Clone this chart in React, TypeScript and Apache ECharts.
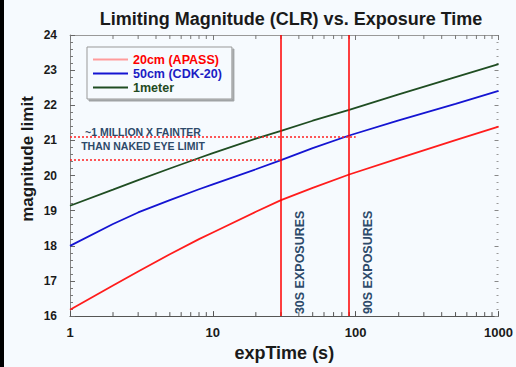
import { useEffect, useRef } from 'react';
import * as echarts from 'echarts';

const expTimes = [1, 2, 3, 5, 8, 10, 20, 30, 50, 90, 200, 500, 1000];
const mag20cm = [16.18, 16.87, 17.27, 17.76, 18.19, 18.38, 18.97, 19.3, 19.65, 20.03, 20.49, 21.01, 21.39];
const mag50cm = [18.0, 18.62, 18.95, 19.3, 19.61, 19.75, 20.18, 20.44, 20.78, 21.14, 21.57, 22.04, 22.41];
const mag1m = [19.14, 19.6, 19.87, 20.2, 20.5, 20.64, 21.05, 21.27, 21.56, 21.87, 22.31, 22.8, 23.17];
const seriesNames = ['20cm (APASS)', '50cm (CDK-20)', '1meter'];
const lineColors = ['#ff1c1c', '#1414d2', '#1f4d22'];
const legendIconColors = ['#ff9c9c', '#1414d2', '#1f4d22'];
const legendTextColors = ['#ff0000', '#1c1cc4', '#1f4a22'];
const exposureMarks = [30, 90];
const exposureLabels = ['30S EXPOSURES', '90S EXPOSURES'];
const faintLevels = [21.11, 20.44];
const faintEnds = [100, 30];
const minorXTicks = [2, 3, 4, 5, 6, 7, 8, 9, 20, 30, 40, 50, 60, 70, 80, 90, 200, 300, 400, 500, 600, 700, 800, 900];
const yMin = 16;
const yMax = 24;
const xMin = 1;
const xMax = 1000;

const FONT = '"Liberation Sans", Arial, Helvetica, sans-serif';
const BG = '#f6fafe';
const NOTE = '#2e4a6a';

export default function App() {
  const ref = useRef<HTMLDivElement>(null);
  useEffect(() => {
    document.body.style.margin = '0';
    if (!ref.current) return;
    const chart = echarts.init(ref.current, null, { renderer: 'svg' });
    const pairs = (ys: number[]) => expTimes.map((t, i) => [t, ys[i]]);
    const series: any[] = [mag20cm, mag50cm, mag1m].map((ys, i) => ({
      name: seriesNames[i],
      type: 'line',
      data: pairs(ys),
      symbol: 'none',
      lineStyle: { color: lineColors[i], width: 1.8 },
      itemStyle: { color: lineColors[i] },
      z: 3,
    }));
    series[0].markLine = {
      silent: true,
      symbol: 'none',
      animation: false,
      label: { show: false },
      data: [
        ...exposureMarks.map((x, i) => ({
          xAxis: x,
          lineStyle: { color: '#ff0000', width: 1.5, type: 'solid' },
          label: {
            show: true,
            formatter: exposureLabels[i],
            position: 'insideStartBottom',
            distance: [2, 12],
            color: NOTE,
            fontFamily: FONT,
            fontSize: 12.5,
            fontWeight: 'bold',
          },
        })),
        ...faintLevels.map((y, i) => [
          { coord: [xMin, y], lineStyle: { color: '#ff2020', width: 1.5, type: [2, 2] }, label: { show: false } },
          { coord: [faintEnds[i], y] },
        ]),
      ],
    };
    series.push({
      type: 'custom',
      silent: true,
      data: minorXTicks.map((v) => [v, yMin]),
      encode: { x: 0, y: 1 },
      z: 2,
      renderItem: (_p: any, api: any) => {
        const v = api.value(0);
        const b = api.coord([v, yMin]);
        const t = api.coord([v, yMax]);
        return {
          type: 'group',
          children: [
            { type: 'line', shape: { x1: b[0], y1: b[1], x2: b[0], y2: b[1] - 4 }, style: { stroke: '#555', lineWidth: 1 } },
            { type: 'line', shape: { x1: t[0], y1: t[1], x2: t[0], y2: t[1] + 4 }, style: { stroke: '#777', lineWidth: 1 } },
          ],
        };
      },
    });

    chart.setOption({
      animation: false,
      backgroundColor: BG,
      title: {
        text: 'Limiting Magnitude (CLR) vs. Exposure Time',
        left: 286,
        top: 5,
        textAlign: 'center',
        textStyle: { fontFamily: FONT, fontSize: 18, fontWeight: 'bold', color: '#1a1a1a' },
      },
      grid: { left: 70, right: 14, top: 35, bottom: 44 },
      legend: {
        orient: 'vertical',
        left: 87,
        top: 47,
        selectedMode: false,
        icon: 'rect',
        itemWidth: 35,
        itemHeight: 2,
        itemGap: 1,
        padding: [6, 10, 5, 6],
        borderColor: '#999',
        borderWidth: 1,
        backgroundColor: BG,
        shadowColor: 'rgba(0,0,0,0.35)',
        shadowBlur: 1,
        shadowOffsetX: 2,
        shadowOffsetY: 2,
        textStyle: { fontFamily: FONT, fontSize: 12.5, fontWeight: 'bold', lineHeight: 13 },
        data: seriesNames.map((n, i) => ({
          name: n,
          itemStyle: { color: legendIconColors[i] },
          textStyle: { color: legendTextColors[i] },
        })),
      },
      xAxis: [
        {
          type: 'log',
          logBase: 10,
          min: xMin,
          max: xMax,
          name: 'expTime (s)',
          nameLocation: 'middle',
          nameGap: 27,
          nameTextStyle: { fontFamily: FONT, fontSize: 18, fontWeight: 'bold', color: '#1a1a1a' },
          axisLine: { lineStyle: { color: '#555', width: 1 } },
          axisTick: { inside: true, length: 5, lineStyle: { color: '#555' } },
          axisLabel: {
            margin: 10,
            fontFamily: FONT,
            fontSize: 13,
            fontWeight: 'bold',
            color: '#1a1a1a',
            formatter: (v: number) => String(v),
          },
          splitLine: { show: false },
        },
        {
          type: 'log',
          logBase: 10,
          min: xMin,
          max: xMax,
          position: 'top',
          axisLine: { lineStyle: { color: '#999', width: 1 } },
          axisTick: { inside: true, length: 5, lineStyle: { color: '#777' } },
          axisLabel: { show: false },
          splitLine: { show: false },
        },
      ],
      yAxis: [
        {
          type: 'value',
          min: yMin,
          max: yMax,
          interval: 1,
          axisLine: { show: true, lineStyle: { color: '#888', width: 1 } },
          axisTick: { show: true, inside: true, length: 5, lineStyle: { color: '#666' } },
          minorTick: { show: true, splitNumber: 5, length: 3, lineStyle: { color: '#777' } },
          axisLabel: { margin: 13, fontFamily: FONT, fontSize: 12, fontWeight: 'bold', color: '#1a1a1a' },
          splitLine: { show: false },
        },
        {
          type: 'value',
          min: yMin,
          max: yMax,
          interval: 1,
          position: 'right',
          axisLine: { show: false },
          axisTick: { show: true, inside: true, length: 4, lineStyle: { color: '#888' } },
          minorTick: { show: true, splitNumber: 5, length: 2, lineStyle: { color: '#999' } },
          axisLabel: { show: false },
          splitLine: { show: false },
        },
      ],
      graphic: [
        { type: 'rect', left: 0, top: 0, shape: { width: 4, height: 367 }, style: { fill: '#000' } },
        {
          type: 'text',
          x: 27,
          y: 159,
          rotation: Math.PI / 2,
          style: {
            text: 'magnitude limit',
            fontFamily: FONT,
            fontSize: 17,
            fontWeight: 'bold',
            fill: '#1a1a1a',
            align: 'center',
            verticalAlign: 'middle',
          },
        },
        {
          type: 'text',
          x: 143,
          y: 139,
          style: {
            text: '~1 MILLION X FAINTER\nTHAN NAKED EYE LIMIT',
            fontFamily: FONT,
            fontSize: 10.5,
            fontWeight: 'bold',
            fill: NOTE,
            align: 'center',
            verticalAlign: 'middle',
            lineHeight: 14,
          },
        },
      ],
      series,
    });
    return () => chart.dispose();
  }, []);
  return <div ref={ref} style={{ width: 516, height: 367 }} />;
}
